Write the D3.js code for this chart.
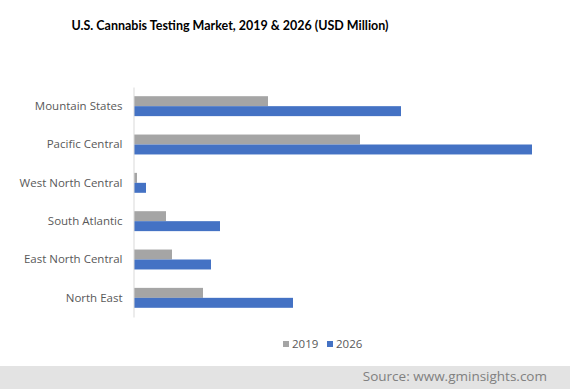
<!DOCTYPE html>
<html>
<head>
<meta charset="utf-8">
<script src="https://cdn.jsdelivr.net/npm/d3@7"></script>
<style>
  body { margin: 0; background: #fff; }
  svg { display: block; }
</style>
</head>
<body>
<div id="chart"></div>
<script>
// chart data (arbitrary units ~ USD Million)
var regions = ["Mountain States", "Pacific Central", "West North Central",
               "South Atlantic", "East North Central", "North East"];
var years = ["2019", "2026"];
var values2019 = [134, 226, 3, 32, 38, 69];
var values2026 = [267, 398, 12, 86, 77, 159];
var colors = ["#a5a5a5", "#4472c4"];

var svgWidth = 570;
var svgHeight = 390;

var margin = { top: 87, right: 38, bottom: 73, left: 134 };
var chartWidth = svgWidth - margin.left - margin.right;
var chartHeight = svgHeight - margin.top - margin.bottom;

var svg = d3.select("#chart").append("svg")
  .attr("width", svgWidth)
  .attr("height", svgHeight);

// title
svg.append("text")
  .attr("x", 230)
  .attr("y", 30)
  .attr("text-anchor", "middle")
  .style("font-family", "Lato, sans-serif")
  .style("font-weight", "bold")
  .style("font-size", "13.5px")
  .attr("textLength", 317)
  .attr("lengthAdjust", "spacingAndGlyphs")
  .style("fill", "#000")
  .text("U.S. Cannabis Testing Market, 2019 & 2026 (USD Million)");

var chartGroup = svg.append("g")
  .attr("transform", `translate(${margin.left}, ${margin.top})`);

var table = regions.map(function(r, i) {
  return { region: r, v2019: values2019[i], v2026: values2026[i] };
});

var yScale = d3.scaleBand()
  .domain(regions)
  .range([0, chartHeight])
  .paddingInner(0.48)
  .paddingOuter(0.24);

var subScale = d3.scaleBand()
  .domain(years)
  .range([0, yScale.bandwidth()]);

var xScale = d3.scaleLinear()
  .domain([0, 400])
  .range([0, 400]);

// bars
var groups = chartGroup.selectAll(".grp")
  .data(table)
  .enter()
  .append("g")
  .attr("transform", d => `translate(0, ${yScale(d.region)})`);

groups.selectAll("rect")
  .data(d => [{ year: "2019", v: d.v2019 }, { year: "2026", v: d.v2026 }])
  .enter()
  .append("rect")
  .attr("x", xScale(0))
  .attr("y", d => subScale(d.year))
  .attr("width", d => xScale(d.v) - xScale(0))
  .attr("height", subScale.bandwidth())
  .attr("fill", (d, i) => colors[i]);

// left axis
var leftAxis = d3.axisLeft(yScale).tickSize(0).tickPadding(11);
var axisG = chartGroup.append("g")
  .attr("transform", "translate(-0.5, 0)")
  .call(leftAxis);
axisG.select(".domain").attr("stroke", "#d9d9d9");
axisG.selectAll("text")
  .style("font-family", "'Open Sans', sans-serif")
  .style("font-size", "11.5px")
  .style("fill", "#595959");

// legend
var legend = svg.append("g")
  .attr("transform", "translate(283, 341)");
var legendX = [0, 44];
years.forEach(function(y, i) {
  legend.append("rect")
    .attr("x", legendX[i])
    .attr("y", 0)
    .attr("width", 6)
    .attr("height", 6)
    .attr("fill", colors[i]);
  legend.append("text")
    .attr("x", legendX[i] + 9)
    .attr("y", 7)
    .style("font-family", "'Open Sans', sans-serif")
    .style("font-size", "11.5px")
    .style("fill", "#595959")
    .text(y);
});

// source band
svg.append("rect")
  .attr("x", 0)
  .attr("y", 366)
  .attr("width", svgWidth)
  .attr("height", 23)
  .attr("fill", "#e3e3e3");
svg.append("text")
  .attr("x", 547)
  .attr("y", 381)
  .attr("text-anchor", "end")
  .style("font-family", "'Open Sans', sans-serif")
  .style("font-size", "13.5px")
  .style("fill", "#808080")
  .text("Source: www.gminsights.com");
</script>
</body>
</html>
